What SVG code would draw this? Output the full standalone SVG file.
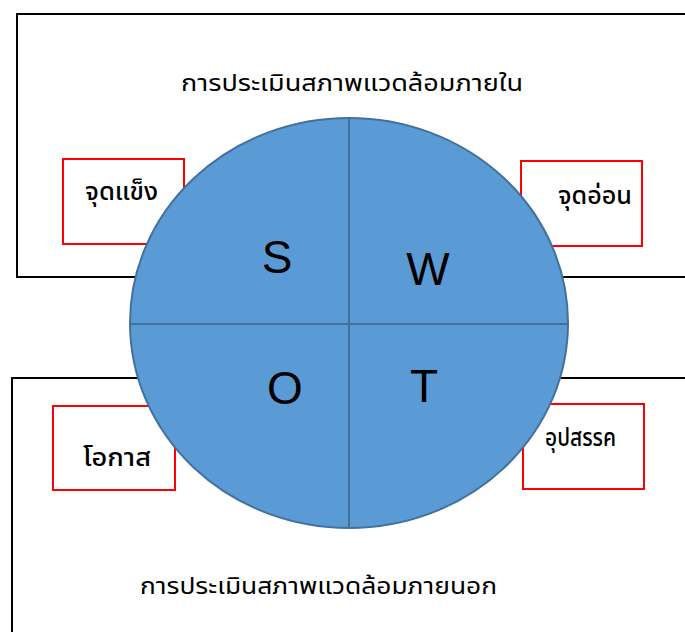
<svg xmlns="http://www.w3.org/2000/svg" width="685" height="632" viewBox="0 0 685 632">
<style>
.frame{fill:#fff;stroke:#000;stroke-width:2}
.lbl{fill:#fff;stroke:#ff0000;stroke-width:2}
.th{font-family:"Noto Sans Thai","Noto Sans","DejaVu Sans",sans-serif;fill:#000}
.tl{font-size:25px;font-weight:500}
.big{font-family:"Liberation Sans",Arial,sans-serif;font-size:46px;fill:#000;text-anchor:middle}
.quad{stroke:#41719C;stroke-width:2;fill:none}
</style>
<rect width="685" height="632" fill="#fff"/>
<g id="internal">
<rect class="frame" x="17" y="14" width="680" height="263"/>
<text class="th" x="181" y="91" font-size="23" textLength="342" lengthAdjust="spacingAndGlyphs">การประเมินสภาพแวดล้อมภายใน</text>
</g>
<g id="external">
<rect class="frame" x="12" y="378" width="685" height="270"/>
<text class="th" x="140" y="594" font-size="23" textLength="357" lengthAdjust="spacingAndGlyphs">การประเมินสภาพแวดล้อมภายนอก</text>
</g>
<g id="strength">
<rect class="lbl" x="63" y="159" width="121" height="85"/>
<text class="th tl" x="85" y="200" textLength="73" lengthAdjust="spacingAndGlyphs">จุดแข็ง</text>
</g>
<g id="weakness">
<rect class="lbl" x="521" y="161" width="121" height="85"/>
<text class="th tl" x="558" y="204" textLength="74" lengthAdjust="spacingAndGlyphs">จุดอ่อน</text>
</g>
<g id="opportunity">
<rect class="lbl" x="53" y="406" width="122" height="84"/>
<text class="th tl" x="83" y="466" textLength="68" lengthAdjust="spacingAndGlyphs">โอกาส</text>
</g>
<g id="threat">
<rect class="lbl" x="523" y="404" width="121" height="85"/>
<text class="th tl" x="545" y="446" textLength="71" lengthAdjust="spacingAndGlyphs">อุปสรรค</text>
</g>
<g id="swot">
<ellipse cx="349" cy="323" rx="219" ry="205" fill="#5B9BD5" stroke="#41719C" stroke-width="2"/>
<line class="quad" x1="349" y1="118" x2="349" y2="528"/>
<line class="quad" x1="130" y1="324" x2="568" y2="324"/>
<text class="big" x="277" y="273">S</text>
<text class="big" x="428" y="285">W</text>
<text class="big" x="285" y="404">O</text>
<text class="big" x="424" y="402">T</text>
</g>
</svg>
